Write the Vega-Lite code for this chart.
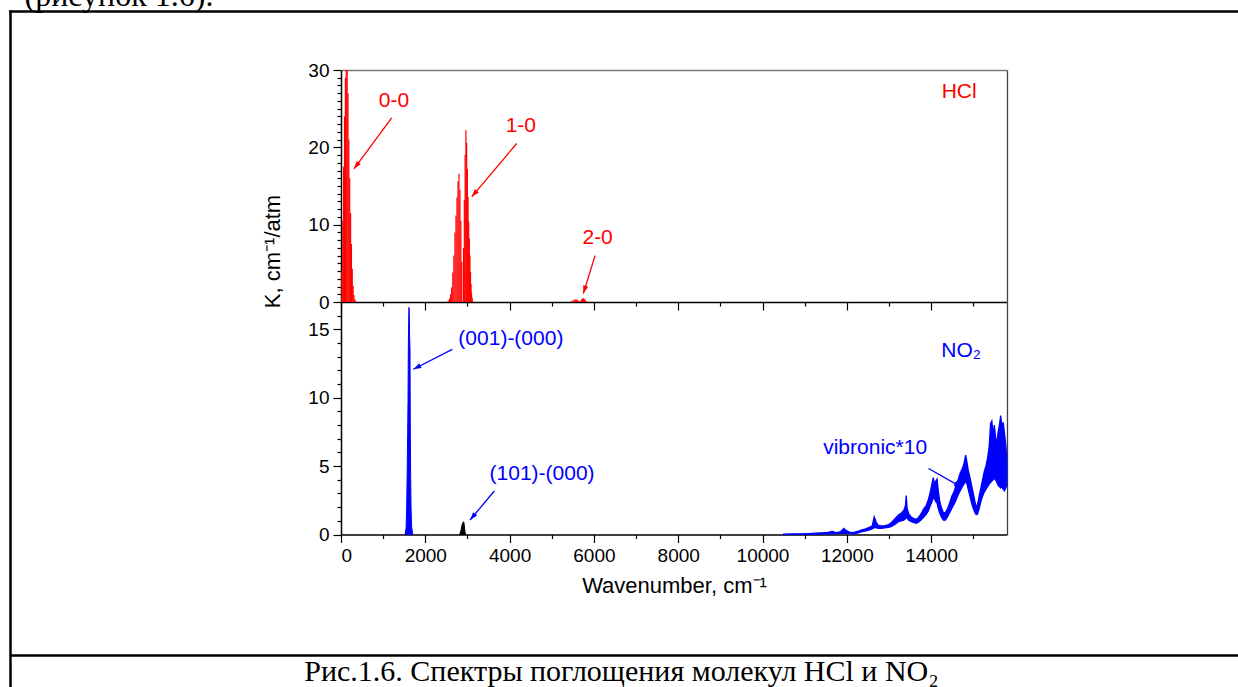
{
  "$schema": "https://vega.github.io/schema/vega-lite/v6.json",
  "width": 1228,
  "height": 676,
  "autosize": "none",
  "padding": {"left": 10, "top": 11, "right": 0, "bottom": 0},
  "background": "white",
  "config": {
    "view": {"stroke": null},
    "font": "Liberation Sans",
    "text": {"font": "Liberation Sans"},
    "axis": {
      "grid": false,
      "domainColor": "#000000",
      "tickColor": "#000000",
      "labelColor": "#000000",
      "titleColor": "#000000",
      "labelFont": "Liberation Sans",
      "titleFont": "Liberation Sans",
      "labelFontSize": 19,
      "titleFontSize": 22,
      "titleFontWeight": "normal",
      "domainWidth": 1.5,
      "tickWidth": 1.2,
      "labelPadding": 4
    }
  },
  "datasets": {
    "hcl": [
      {"wn": 20.9, "k": 4}, {"wn": 41.7, "k": 10.5}, {"wn": 62.6, "k": 17.5}, {"wn": 83.3, "k": 24},
      {"wn": 104.1, "k": 29}, {"wn": 124.8, "k": 32}, {"wn": 145.4, "k": 31}, {"wn": 166.0, "k": 27},
      {"wn": 186.5, "k": 21}, {"wn": 206.9, "k": 16}, {"wn": 227.3, "k": 11.5}, {"wn": 247.6, "k": 7.5},
      {"wn": 267.8, "k": 4.3}, {"wn": 287.9, "k": 2.1}, {"wn": 307.9, "k": 0.9}, {"wn": 327.8, "k": 0.35},
      {"wn": 347.5, "k": 0.12},
      {"wn": 2544.6, "k": 0.18}, {"wn": 2572.0, "k": 0.45}, {"wn": 2599.0, "k": 1.0}, {"wn": 2625.7, "k": 1.9},
      {"wn": 2651.9, "k": 3.8}, {"wn": 2677.7, "k": 6.0}, {"wn": 2703.0, "k": 9.0}, {"wn": 2727.8, "k": 11.2},
      {"wn": 2752.0, "k": 13.5}, {"wn": 2775.8, "k": 15.6}, {"wn": 2799.0, "k": 16.6}, {"wn": 2821.6, "k": 14.5},
      {"wn": 2843.6, "k": 10.5}, {"wn": 2865.1, "k": 5.2},
      {"wn": 2906.2, "k": 7.0}, {"wn": 2925.9, "k": 13.2}, {"wn": 2944.9, "k": 19.0}, {"wn": 2963.3, "k": 22.2},
      {"wn": 2981.0, "k": 20.6}, {"wn": 2998.1, "k": 17.2}, {"wn": 3014.3, "k": 13.6}, {"wn": 3029.9, "k": 10.4},
      {"wn": 3044.9, "k": 8.2}, {"wn": 3059.1, "k": 6.0}, {"wn": 3072.8, "k": 3.9}, {"wn": 3085.6, "k": 2.3},
      {"wn": 3097.9, "k": 1.2}, {"wn": 3109.5, "k": 0.55}, {"wn": 3120.3, "k": 0.2},
      {"wn": 5429.1, "k": 0.04}, {"wn": 5456.1, "k": 0.08}, {"wn": 5482.2, "k": 0.14}, {"wn": 5507.5, "k": 0.21},
      {"wn": 5532.6, "k": 0.28}, {"wn": 5556.9, "k": 0.32}, {"wn": 5580.8, "k": 0.33}, {"wn": 5603.3, "k": 0.3},
      {"wn": 5625.8, "k": 0.22}, {"wn": 5647.6, "k": 0.11},
      {"wn": 5688.0, "k": 0.16}, {"wn": 5706.6, "k": 0.32}, {"wn": 5724.2, "k": 0.43}, {"wn": 5740.9, "k": 0.48},
      {"wn": 5756.6, "k": 0.45}, {"wn": 5771.5, "k": 0.37}, {"wn": 5785.5, "k": 0.28}, {"wn": 5798.6, "k": 0.19},
      {"wn": 5810.8, "k": 0.11}, {"wn": 5822.2, "k": 0.05}
    ],
    "hclNotes": [
      {"label": "0-0", "wn": 1258, "k": 26.0},
      {"label": "1-0", "wn": 4267, "k": 22.7},
      {"label": "2-0", "wn": 6088, "k": 8.3},
      {"label": "HCl", "wn": 14666, "k": 27.2}
    ],
    "hclArrows": [
      {"fromWn": 1202, "fromK": 23.8, "toWn": 308, "toK": 17.2},
      {"fromWn": 4169, "fromK": 20.5, "toWn": 3101, "toK": 13.6},
      {"fromWn": 6027, "fromK": 6.0, "toWn": 5750, "toK": 1.1}
    ],
    "no2Fund": [
      {"wn": 1520, "k": 0}, {"wn": 1545, "k": 0.5}, {"wn": 1558, "k": 2}, {"wn": 1570, "k": 4.5},
      {"wn": 1582, "k": 7.4}, {"wn": 1590, "k": 9.8}, {"wn": 1597, "k": 13.5}, {"wn": 1605, "k": 15.5},
      {"wn": 1613, "k": 16.6}, {"wn": 1620, "k": 16.0}, {"wn": 1628, "k": 14.5}, {"wn": 1637, "k": 13.5},
      {"wn": 1641, "k": 10.5}, {"wn": 1645, "k": 7.4}, {"wn": 1652, "k": 4.5}, {"wn": 1661, "k": 2},
      {"wn": 1675, "k": 0.6}, {"wn": 1700, "k": 0}
    ],
    "no2Comb": [
      {"wn": 2810, "k": 0}, {"wn": 2830, "k": 0.1}, {"wn": 2850, "k": 0.35}, {"wn": 2865, "k": 0.6},
      {"wn": 2880, "k": 0.78}, {"wn": 2892, "k": 0.85}, {"wn": 2903, "k": 0.93}, {"wn": 2912, "k": 0.9},
      {"wn": 2922, "k": 0.75}, {"wn": 2932, "k": 0.45}, {"wn": 2945, "k": 0.15}, {"wn": 2960, "k": 0}
    ],
    "no2Vib": [
      {"wn": 10500, "lo": 0, "hi": 0.03}, {"wn": 10700, "lo": 0.01, "hi": 0.04}, {"wn": 10900, "lo": 0.01, "hi": 0.05},
      {"wn": 11100, "lo": 0.02, "hi": 0.07}, {"wn": 11250, "lo": 0.03, "hi": 0.09}, {"wn": 11400, "lo": 0.03, "hi": 0.12},
      {"wn": 11550, "lo": 0.04, "hi": 0.15}, {"wn": 11650, "lo": 0.05, "hi": 0.22}, {"wn": 11750, "lo": 0.06, "hi": 0.14},
      {"wn": 11850, "lo": 0.08, "hi": 0.2}, {"wn": 11930, "lo": 0.1, "hi": 0.45}, {"wn": 11980, "lo": 0.08, "hi": 0.3},
      {"wn": 12060, "lo": 0.06, "hi": 0.18}, {"wn": 12150, "lo": 0.05, "hi": 0.14}, {"wn": 12250, "lo": 0.1, "hi": 0.22},
      {"wn": 12340, "lo": 0.2, "hi": 0.32}, {"wn": 12430, "lo": 0.25, "hi": 0.4}, {"wn": 12520, "lo": 0.32, "hi": 0.5},
      {"wn": 12600, "lo": 0.4, "hi": 0.62}, {"wn": 12650, "lo": 0.5, "hi": 1.3}, {"wn": 12690, "lo": 0.5, "hi": 0.95},
      {"wn": 12740, "lo": 0.45, "hi": 0.68}, {"wn": 12820, "lo": 0.45, "hi": 0.62}, {"wn": 12900, "lo": 0.48, "hi": 0.64},
      {"wn": 12980, "lo": 0.52, "hi": 0.7}, {"wn": 13050, "lo": 0.58, "hi": 0.85}, {"wn": 13110, "lo": 0.68, "hi": 1.05},
      {"wn": 13170, "lo": 0.8, "hi": 1.25}, {"wn": 13230, "lo": 0.95, "hi": 1.45}, {"wn": 13290, "lo": 1.0, "hi": 1.55},
      {"wn": 13350, "lo": 1.05, "hi": 1.75}, {"wn": 13390, "lo": 1.15, "hi": 2.1}, {"wn": 13410, "lo": 1.3, "hi": 2.85},
      {"wn": 13430, "lo": 1.2, "hi": 1.9}, {"wn": 13470, "lo": 1.05, "hi": 1.5}, {"wn": 13520, "lo": 0.95, "hi": 1.3},
      {"wn": 13580, "lo": 0.88, "hi": 1.18}, {"wn": 13640, "lo": 0.82, "hi": 1.1}, {"wn": 13700, "lo": 0.9, "hi": 1.25},
      {"wn": 13760, "lo": 1.05, "hi": 1.5}, {"wn": 13820, "lo": 1.25, "hi": 1.85}, {"wn": 13880, "lo": 1.45, "hi": 2.1},
      {"wn": 13930, "lo": 1.7, "hi": 2.5}, {"wn": 13980, "lo": 2.1, "hi": 3.1}, {"wn": 14020, "lo": 2.4, "hi": 3.7},
      {"wn": 14050, "lo": 2.7, "hi": 4.15}, {"wn": 14080, "lo": 2.6, "hi": 3.7}, {"wn": 14110, "lo": 2.4, "hi": 3.9},
      {"wn": 14140, "lo": 2.3, "hi": 4.05}, {"wn": 14170, "lo": 1.9, "hi": 3.2}, {"wn": 14200, "lo": 1.6, "hi": 2.5},
      {"wn": 14240, "lo": 1.3, "hi": 2.0}, {"wn": 14290, "lo": 1.05, "hi": 1.6}, {"wn": 14340, "lo": 1.05, "hi": 1.6},
      {"wn": 14390, "lo": 1.3, "hi": 1.9}, {"wn": 14440, "lo": 1.6, "hi": 2.3}, {"wn": 14490, "lo": 1.9, "hi": 2.8},
      {"wn": 14540, "lo": 2.2, "hi": 3.1}, {"wn": 14590, "lo": 2.5, "hi": 3.6}, {"wn": 14640, "lo": 2.9, "hi": 4.0},
      {"wn": 14690, "lo": 3.2, "hi": 4.5}, {"wn": 14740, "lo": 3.5, "hi": 4.8}, {"wn": 14780, "lo": 3.7, "hi": 5.2},
      {"wn": 14820, "lo": 3.9, "hi": 5.8}, {"wn": 14850, "lo": 3.7, "hi": 5.3}, {"wn": 14880, "lo": 3.3, "hi": 4.7},
      {"wn": 14920, "lo": 2.8, "hi": 4.2}, {"wn": 14960, "lo": 2.3, "hi": 3.6}, {"wn": 15000, "lo": 1.9, "hi": 3.0},
      {"wn": 15040, "lo": 1.6, "hi": 2.4}, {"wn": 15070, "lo": 1.45, "hi": 2.0}, {"wn": 15100, "lo": 1.5, "hi": 2.2},
      {"wn": 15140, "lo": 1.9, "hi": 2.8}, {"wn": 15180, "lo": 2.4, "hi": 3.4}, {"wn": 15220, "lo": 2.8, "hi": 4.0},
      {"wn": 15260, "lo": 3.1, "hi": 4.6}, {"wn": 15300, "lo": 3.3, "hi": 5.0}, {"wn": 15340, "lo": 3.5, "hi": 5.6},
      {"wn": 15380, "lo": 3.7, "hi": 6.5}, {"wn": 15410, "lo": 3.8, "hi": 8.1}, {"wn": 15440, "lo": 3.9, "hi": 8.3},
      {"wn": 15470, "lo": 4.0, "hi": 7.3}, {"wn": 15500, "lo": 4.1, "hi": 8.0}, {"wn": 15530, "lo": 4.0, "hi": 7.0},
      {"wn": 15560, "lo": 3.8, "hi": 6.8}, {"wn": 15590, "lo": 3.6, "hi": 7.5}, {"wn": 15620, "lo": 3.5, "hi": 8.0},
      {"wn": 15650, "lo": 3.4, "hi": 8.7}, {"wn": 15680, "lo": 3.5, "hi": 7.9}, {"wn": 15710, "lo": 3.3, "hi": 8.2},
      {"wn": 15740, "lo": 3.2, "hi": 7.4}, {"wn": 15770, "lo": 3.4, "hi": 6.6}, {"wn": 15795, "lo": 3.6, "hi": 5.5}
    ],
    "no2Notes": [
      {"label": "(001)-(000)", "wn": 4030, "k": 14.3},
      {"label": "(101)-(000)", "wn": 4770, "k": 4.4},
      {"label": "NO₂", "wn": 14712, "k": 13.4},
      {"label": "vibronic*10", "wn": 12672, "k": 6.3}
    ],
    "no2Arrows": [
      {"fromWn": 2641, "fromK": 13.54, "toWn": 1716, "toK": 12.08},
      {"fromWn": 3638, "fromK": 3.18, "toWn": 3061, "toK": 1.06},
      {"fromWn": 13937, "fromK": 4.83, "toWn": 14729, "toK": 3.45}
    ],
    "frame": [{"v": 0}]
  },
  "layer": [
    {
      "layer": [
        {
          "data": {"name": "hcl"},
          "mark": {"type": "rule", "color": "#ff0000", "strokeWidth": 1.2},
          "encoding": {
            "x": {
              "field": "wn", "type": "quantitative",
              "scale": {"domain": [0, 15800], "range": [331, 997], "nice": false, "zero": false},
              "axis": {
                "orient": "bottom", "offset": -385,
                "values": [0, 1000, 2000, 3000, 4000, 5000, 6000, 7000, 8000, 9000, 10000, 11000, 12000, 13000, 14000, 15000],
                "labels": false, "title": null,
                "tickSize": {"condition": {"test": "datum.value % 2000 === 0", "value": 8}, "value": 4}
              }
            },
            "y": {
              "field": "k", "type": "quantitative",
              "scale": {"domain": [0, 30], "range": [291, 59], "nice": false, "zero": false, "clamp": true},
              "axis": {
                "orient": "left", "offset": -331,
                "values": [0, 1, 2, 3, 4, 5, 6, 7, 8, 9, 10, 11, 12, 13, 14, 15, 16, 17, 18, 19, 20, 21, 22, 23, 24, 25, 26, 27, 28, 29, 30],
                "format": "d",
                "labelExpr": "datum.value % 10 === 0 ? datum.label : ''",
                "labelOverlap": false,
                "tickSize": {"condition": {"test": "datum.value % 10 === 0", "value": 8}, "value": 4},
                "title": "K, cm⁻¹/atm",
                "titleAngle": -90,
                "titleX": -62,
                "titleY": 240,
                "titleAlign": "center",
                "titleBaseline": "alphabetic"
              }
            },
            "y2": {"datum": 0}
          }
        },
        {
          "data": {"name": "hclNotes"},
          "mark": {"type": "text", "color": "#ff0000", "fontSize": 21, "align": "center", "baseline": "middle"},
          "encoding": {
            "x": {
              "field": "wn", "type": "quantitative",
              "scale": {"domain": [0, 15800], "range": [331, 997], "nice": false, "zero": false},
              "axis": {"orient": "top", "offset": -59, "ticks": false, "labels": false, "title": null, "domainColor": "#7a7a7a", "domainWidth": 1.3}
            },
            "y": {
              "field": "k", "type": "quantitative",
              "scale": {"domain": [0, 30], "range": [291, 59], "nice": false, "zero": false, "clamp": true},
              "axis": {"orient": "right", "offset": -231, "ticks": false, "labels": false, "title": null, "domainColor": "#404040", "domainWidth": 1.3}
            },
            "text": {"field": "label"}
          }
        },
        {
          "data": {"name": "hclArrows"},
          "mark": {"type": "rule", "color": "#ff0000", "strokeWidth": 1.3},
          "encoding": {
            "x": {"field": "fromWn", "type": "quantitative", "scale": {"domain": [0, 15800], "range": [331, 997], "nice": false, "zero": false}, "axis": null},
            "y": {"field": "fromK", "type": "quantitative", "scale": {"domain": [0, 30], "range": [291, 59], "nice": false, "zero": false, "clamp": true}, "axis": null},
            "x2": {"field": "toWn"},
            "y2": {"field": "toK"}
          }
        },
        {
          "data": {"name": "hclArrows"},
          "transform": [
            {"calculate": "atan2((datum.toWn - datum.fromWn) * 0.042152, (datum.toK - datum.fromK) * 7.7333) * 180 / PI", "as": "heading"}
          ],
          "mark": {"type": "point", "shape": "M0,0L-0.33,1L0.33,1Z", "filled": true, "color": "#ff0000", "opacity": 1, "size": 256, "strokeWidth": 0},
          "encoding": {
            "x": {"field": "toWn", "type": "quantitative", "scale": {"domain": [0, 15800], "range": [331, 997], "nice": false, "zero": false}, "axis": null},
            "y": {"field": "toK", "type": "quantitative", "scale": {"domain": [0, 30], "range": [291, 59], "nice": false, "zero": false, "clamp": true}, "axis": null},
            "angle": {"field": "heading", "type": "quantitative", "scale": null}
          }
        }
      ],
      "resolve": {"axis": {"x": "independent", "y": "independent"}}
    },
    {
      "layer": [
        {
          "data": {"name": "no2Fund"},
          "mark": {"type": "area", "color": "#0000ff", "stroke": "#0000ff", "strokeWidth": 1},
          "encoding": {
            "x": {
              "field": "wn", "type": "quantitative",
              "scale": {"domain": [0, 15800], "range": [331, 997], "nice": false, "zero": false},
              "axis": {
                "orient": "bottom", "offset": -152.5,
                "values": [0, 1000, 2000, 3000, 4000, 5000, 6000, 7000, 8000, 9000, 10000, 11000, 12000, 13000, 14000, 15000],
                "format": "d",
                "labelExpr": "datum.value % 2000 === 0 ? datum.label : ''",
                "labelOverlap": false,
                "tickSize": {"condition": {"test": "datum.value % 2000 === 0", "value": 8}, "value": 4},
                "title": "Wavenumber, cm⁻¹",
                "titleY": 58,
                "titleAlign": "center",
                "titleBaseline": "alphabetic"
              }
            },
            "y": {
              "field": "k", "type": "quantitative",
              "scale": {"domain": [0, 17], "range": [523.5, 291], "nice": false, "zero": false, "clamp": true},
              "axis": {
                "orient": "left", "offset": -331,
                "values": [0, 1, 2, 3, 4, 5, 6, 7, 8, 9, 10, 11, 12, 13, 14, 15, 16],
                "format": "d",
                "labelExpr": "datum.value % 5 === 0 ? datum.label : ''",
                "labelOverlap": false,
                "tickSize": {"condition": {"test": "datum.value % 5 === 0", "value": 8}, "value": 4},
                "title": null
              }
            }
          }
        },
        {
          "data": {"name": "no2Comb"},
          "mark": {"type": "area", "color": "#000000", "stroke": "#000000", "strokeWidth": 1},
          "encoding": {
            "x": {"field": "wn", "type": "quantitative", "scale": {"domain": [0, 15800], "range": [331, 997], "nice": false, "zero": false}, "axis": null},
            "y": {"field": "k", "type": "quantitative", "scale": {"domain": [0, 17], "range": [523.5, 291], "nice": false, "zero": false, "clamp": true}, "axis": null}
          }
        },
        {
          "data": {"name": "no2Vib"},
          "mark": {"type": "area", "color": "#0000ff", "stroke": "#0000ff", "strokeWidth": 1.3},
          "encoding": {
            "x": {"field": "wn", "type": "quantitative", "scale": {"domain": [0, 15800], "range": [331, 997], "nice": false, "zero": false}, "axis": null},
            "y": {"field": "hi", "type": "quantitative", "scale": {"domain": [0, 17], "range": [523.5, 291], "nice": false, "zero": false, "clamp": true}, "axis": null},
            "y2": {"field": "lo"}
          }
        },
        {
          "data": {"name": "no2Notes"},
          "mark": {"type": "text", "color": "#0000ff", "fontSize": 21, "align": "center", "baseline": "middle"},
          "encoding": {
            "x": {"field": "wn", "type": "quantitative", "scale": {"domain": [0, 15800], "range": [331, 997], "nice": false, "zero": false}, "axis": null},
            "y": {
              "field": "k", "type": "quantitative",
              "scale": {"domain": [0, 17], "range": [523.5, 291], "nice": false, "zero": false, "clamp": true},
              "axis": {"orient": "right", "offset": -231, "ticks": false, "labels": false, "title": null, "domainColor": "#404040", "domainWidth": 1.3}
            },
            "text": {"field": "label"}
          }
        },
        {
          "data": {"name": "no2Arrows"},
          "mark": {"type": "rule", "color": "#0000ff", "strokeWidth": 1.3},
          "encoding": {
            "x": {"field": "fromWn", "type": "quantitative", "scale": {"domain": [0, 15800], "range": [331, 997], "nice": false, "zero": false}, "axis": null},
            "y": {"field": "fromK", "type": "quantitative", "scale": {"domain": [0, 17], "range": [523.5, 291], "nice": false, "zero": false, "clamp": true}, "axis": null},
            "x2": {"field": "toWn"},
            "y2": {"field": "toK"}
          }
        },
        {
          "data": {"name": "no2Arrows"},
          "transform": [
            {"calculate": "atan2((datum.toWn - datum.fromWn) * 0.042152, (datum.toK - datum.fromK) * 13.676) * 180 / PI", "as": "heading"}
          ],
          "mark": {"type": "point", "shape": "M0,0L-0.33,1L0.33,1Z", "filled": true, "color": "#0000ff", "opacity": 1, "size": 256, "strokeWidth": 0},
          "encoding": {
            "x": {"field": "toWn", "type": "quantitative", "scale": {"domain": [0, 15800], "range": [331, 997], "nice": false, "zero": false}, "axis": null},
            "y": {"field": "toK", "type": "quantitative", "scale": {"domain": [0, 17], "range": [523.5, 291], "nice": false, "zero": false, "clamp": true}, "axis": null},
            "angle": {"field": "heading", "type": "quantitative", "scale": null}
          }
        }
      ],
      "resolve": {"axis": {"x": "independent", "y": "independent"}}
    },
    {
      "data": {"name": "frame"},
      "mark": {"type": "point", "opacity": 0},
      "encoding": {
        "x": {
          "field": "v", "type": "quantitative",
          "scale": {"domain": [0, 1], "nice": false, "zero": false},
          "axis": {
            "orient": "top", "offset": 0, "ticks": false, "labels": false,
            "domainWidth": 2.5, "domainCap": "square",
            "title": "(рисунок 1.6).",
            "titleFont": "Liberation Serif", "titleFontSize": 32,
            "titleAlign": "left", "titleBaseline": "alphabetic",
            "titleX": 14, "titleY": -6
          }
        },
        "y": {
          "field": "v", "type": "quantitative",
          "scale": {"domain": [0, 1], "nice": false, "zero": false},
          "axis": {"orient": "left", "offset": 0, "ticks": false, "labels": false, "title": null, "domainWidth": 2.5, "domainCap": "square"}
        }
      }
    },
    {
      "data": {"name": "frame"},
      "mark": {"type": "point", "opacity": 0},
      "encoding": {
        "x": {
          "field": "v", "type": "quantitative",
          "scale": {"domain": [0, 1], "nice": false, "zero": false},
          "axis": {
            "orient": "bottom", "offset": -32, "ticks": false, "labels": false,
            "domainWidth": 2.5,
            "title": "Рис.1.6. Спектры поглощения молекул HCl и NO₂",
            "titleFont": "Liberation Serif", "titleFontSize": 30,
            "titleAlign": "center", "titleBaseline": "alphabetic",
            "titleX": 611, "titleY": 25
          }
        }
      }
    }
  ],
  "resolve": {"scale": {"x": "independent", "y": "independent"}}
}
